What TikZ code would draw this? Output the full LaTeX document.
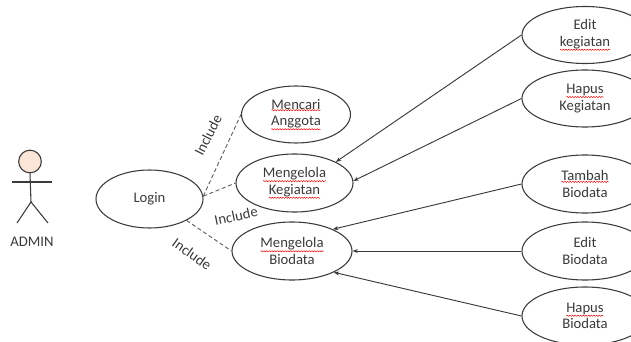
\documentclass[tikz,border=0pt]{standalone}
\usepackage{fontspec}
\setmainfont{Carlito}
\usetikzlibrary{shapes.geometric,arrows.meta,decorations.pathmorphing}
\definecolor{ink}{HTML}{3A3A3A}
\definecolor{headfill}{HTML}{FBE5D6}
\newcommand\sq[1]{\tikz[baseline=(w.base)]{\node[draw=none,fill=none,shape=rectangle,inner sep=0pt,outer sep=0pt,minimum width=0pt,minimum height=0pt,text=ink](w){#1};\draw[red!85!black,line width=0.35pt,decorate,decoration={snake,amplitude=0.45pt,segment length=2pt}] ([yshift=-0.8pt]w.south west) -- ([yshift=-0.8pt]w.south east);}}
\tikzset{
  uc/.style={draw=ink,line width=0.8pt,ellipse,inner sep=0pt,align=center,text=ink,
    font=\fontsize{11}{12.5}\selectfont},
  inc/.style={draw=ink!80,line width=0.7pt,dash pattern=on 3pt off 2pt},
  ext/.style={draw=ink,line width=0.7pt,-{Stealth[length=4pt,width=3pt]}},
  lbl/.style={text=ink,font=\fontsize{11}{12}\selectfont,inner sep=0pt},
  stick/.style={draw=ink,line width=0.8pt}
}
\begin{document}
\begin{tikzpicture}[x=0.75pt,y=-0.75pt]
\useasboundingbox (0,0) rectangle (631,342);
% actor
\node[draw=ink,line width=0.8pt,fill=headfill,circle,minimum size=17pt,inner sep=0pt] (head) at (30,161.5) {};
\coordinate (neck) at (31,173);
\coordinate (hip) at (31,202);
\coordinate (la) at (12,182);
\coordinate (ra) at (52,182);
\coordinate (ll) at (17,223);
\coordinate (rl) at (48,223);
\draw[stick] (head.south) -- (hip);
\draw[stick] (la) -- (ra);
\draw[stick] (ll) -- (hip) -- (rl);
\node[lbl] (admin) at (32,242) {ADMIN};
% use cases
\node[uc,minimum width=80.25pt,minimum height=43.5pt] (login) at (149.5,199) {Login};
\node[uc,minimum width=81.75pt,minimum height=42.75pt] (mc) at (296,114.5) {\sq{Mencari}\\\sq{Anggota}};
\node[uc,minimum width=87.75pt,minimum height=43.5pt] (mk) at (294.5,183) {\sq{Mengelola}\\\sq{Kegiatan}};
\node[uc,minimum width=90pt,minimum height=43.5pt] (mb) at (292,251) {\sq{Mengelola}\\Biodata};
\node[uc,minimum width=94.5pt,minimum height=42.75pt] (ek) at (585,35) {Edit\\\sq{kegiatan}};
\node[uc,minimum width=94.5pt,minimum height=42.75pt] (hk) at (585,98.5) {\sq{Hapus}\\Kegiatan};
\node[uc,minimum width=94.5pt,minimum height=43.5pt] (tb) at (585,184) {\sq{Tambah}\\Biodata};
\node[uc,minimum width=94.5pt,minimum height=43.5pt] (eb) at (585,251) {Edit\\Biodata};
\node[uc,minimum width=94.5pt,minimum height=43.5pt] (hb) at (585,316) {\sq{Hapus}\\Biodata};
% include
\draw[inc] (login.3) -- (mc.west);
\draw[inc] (login.3) -- (mk.west);
\draw[inc] (login.-30) -- (mb.west);
\node[lbl,rotate=63] (i1) at (208,135) {Include};
\node[lbl,rotate=12] (i2) at (236,216) {Include};
\node[lbl,rotate=-35] (i3) at (192,254) {Include};
% extends
\draw[ext] (ek.west) -- (mk.27);
\draw[ext] (hk.west) -- (mk.2);
\draw[ext] (tb.west) -- (mb.28);
\draw[ext] (eb.west) -- (mb.east);
\draw[ext] (hb.west) -- (mb.-27);
\end{tikzpicture}
\end{document}
